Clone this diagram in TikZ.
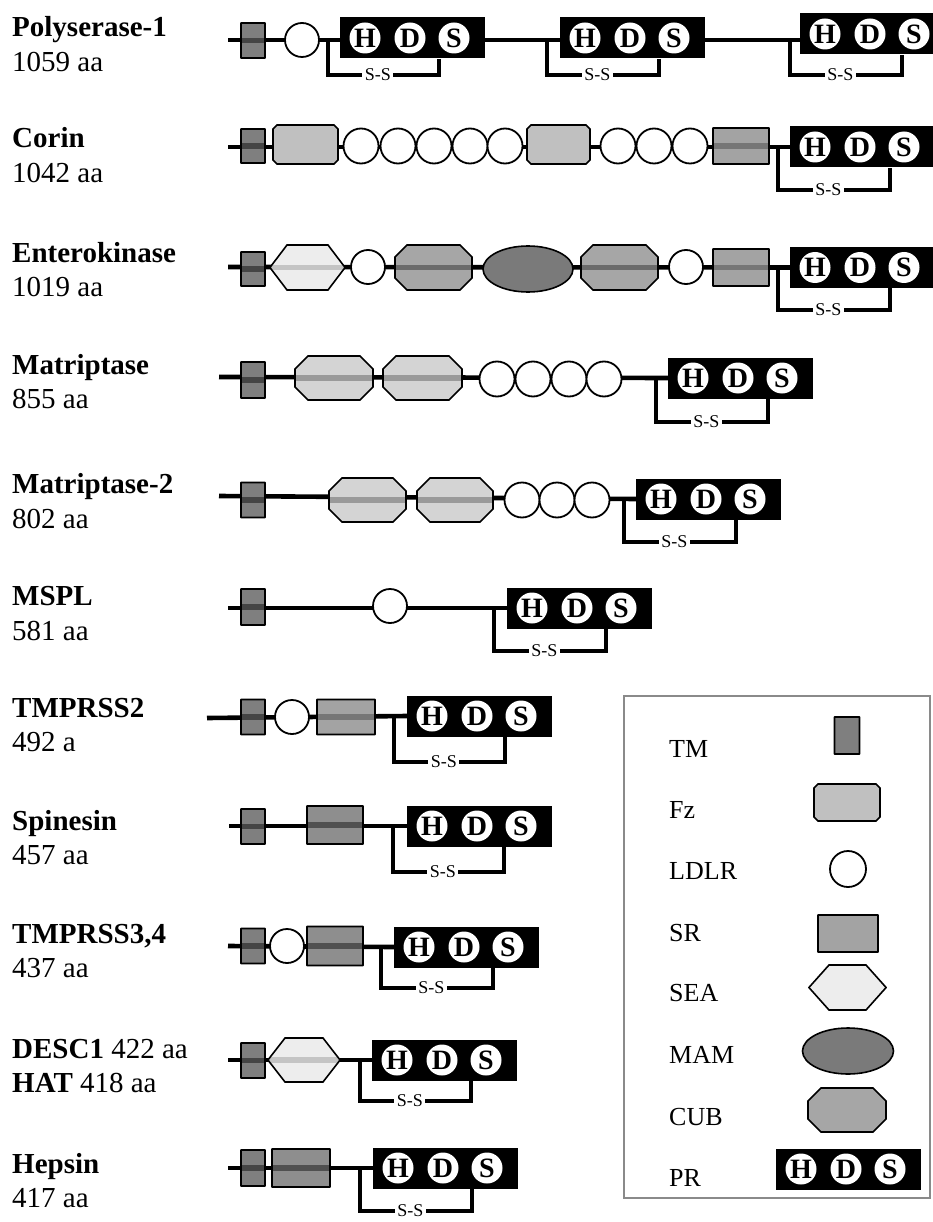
\documentclass[tikz,border=0pt]{standalone}
\usepackage{fontspec}
\setmainfont{Liberation Serif}
\usetikzlibrary{shapes.geometric,backgrounds,calc}
\definecolor{tmgray}{HTML}{7F7F7F}
\definecolor{tmband}{HTML}{454545}
\definecolor{fzgray}{HTML}{C0C0C0}
\definecolor{srgray}{HTML}{A3A3A3}
\definecolor{srband}{HTML}{767676}
\definecolor{srdark}{HTML}{8E8E8E}
\definecolor{srdband}{HTML}{505050}
\definecolor{seafill}{HTML}{EDEDED}
\definecolor{seaband}{HTML}{C4C4C4}
\definecolor{cubfill}{HTML}{A6A6A6}
\definecolor{cubband}{HTML}{6B6B6B}
\definecolor{cublight}{HTML}{D4D4D4}
\definecolor{cubband2}{HTML}{9A9A9A}
\definecolor{mamgray}{HTML}{7A7A7A}
\definecolor{legborder}{HTML}{8A8A8A}
% domain: name, cx, cy, half width, half height, chamfer x, chamfer y, fill, band
\newcommand{\dom}[9]{%
  \coordinate (#1) at (#2,#3);
  \draw[domline, fill=#8, path picture={\fill[#9] ({#2-#4},{#3-2.6}) rectangle ({#2+#4},{#3+2.6});}]
   ({#2-#4+#6},{#3-#5}) -- ({#2+#4-#6},{#3-#5}) -- ({#2+#4},{#3-#5+#7}) -- ({#2+#4},{#3+#5-#7})
   -- ({#2+#4-#6},{#3+#5}) -- ({#2-#4+#6},{#3+#5}) -- ({#2-#4},{#3+#5-#7}) -- ({#2-#4},{#3-#5+#7}) -- cycle;
}
% protease domain: name, left x, centre y
\newcommand{\prd}[3]{%
  \node[prbox] (#1) at (#2,#3) {};
  \node[hds] (#1h) at ({#2+25},#3) {H};
  \node[hds] (#1d) at ({#2+70},#3) {D};
  \node[hds] (#1s) at ({#2+114},#3) {S};
}
% disulfide bracket: pr name, left x, top y, bottom y, right x
\newcommand{\ssb}[5]{%
  \coordinate (#1x) at (#5,0);
  \draw[brk] (#2,#3) -- (#2,#4) -- node[ssl,pos=0.45]{S-S} (#5,#4) -- (#1x |- #1.south);
}
\begin{document}
\begin{tikzpicture}[x=1pt,y=-1pt,
  bb/.style={line width=4.6pt},
  domline/.style={draw=black, line width=1.6pt},
  ldlr/.style={circle, draw=black, fill=white, line width=1.8pt, minimum size=34pt, inner sep=0pt},
  prbox/.style={rectangle, fill=black, minimum width=145pt, minimum height=41pt, inner sep=0pt, anchor=west},
  hds/.style={circle, fill=white, minimum size=31pt, inner sep=0pt, font=\fontsize{28}{28}\selectfont\bfseries},
  brk/.style={line width=3.2pt},
  ssl/.style={fill=white, inner sep=2.5pt, font=\fontsize{18}{18}\selectfont},
  nm/.style={anchor=base west, inner sep=0pt, font=\fontsize{29}{30}\selectfont\bfseries},
  aa/.style={anchor=base west, inner sep=0pt, font=\fontsize{29}{30}\selectfont},
  leg/.style={anchor=base west, inner sep=0pt, font=\fontsize{26}{28}\selectfont},
  mam/.style={ellipse, draw=black, line width=1.6pt, fill=mamgray, minimum width=90pt, minimum height=46pt, inner sep=0pt},
  legbox/.style={draw=legborder, line width=2pt, anchor=north west, minimum width=306pt, minimum height=502pt, inner sep=0pt}
]
\useasboundingbox (0,0) rectangle (932,1222);

% ---------- labels ----------
\node[nm] (n1) at (12,37) {Polyserase-1};
\node[aa] (a1) at (12,72) {1059 aa};
\node[nm] (n2) at (12,148) {Corin};
\node[aa] (a2) at (12,183) {1042 aa};
\node[nm] (n3) at (12,263) {Enterokinase};
\node[aa] (a3) at (12,297) {1019 aa};
\node[nm] (n4) at (12,374) {Matriptase};
\node[aa] (a4) at (12,408) {855 aa};
\node[nm] (n5) at (12,493) {Matriptase-2};
\node[aa] (a5) at (12,528) {802 aa};
\node[nm] (n6) at (12,605) {MSPL};
\node[aa] (a6) at (12,640) {581 aa};
\node[nm] (n7) at (12,717) {TMPRSS2};
\node[aa] (a7) at (12,751) {492 a};
\node[nm] (n8) at (12,830) {Spinesin};
\node[aa] (a8) at (12,864) {457 aa};
\node[nm] (n9) at (12,943) {TMPRSS3,4};
\node[aa] (a9) at (12,977) {437 aa};
\node[aa] (n10) at (12,1058) {\textbf{DESC1} 422 aa};
\node[aa] (a10) at (12,1092) {\textbf{HAT} 418 aa};
\node[nm] (n11) at (12,1173) {Hepsin};
\node[aa] (a11) at (12,1207) {417 aa};

% ---------- row 1: Polyserase-1 ----------
\coordinate (r1s) at (228,40);
\dom{tm1}{253}{40.5}{12}{17.5}{0.3}{0.3}{tmgray}{tmband}
\node[ldlr] (c1) at (302,40) {};
\prd{pa}{340}{38}
\prd{pb}{560}{38}
\prd{pc}{800}{34}
\ssb{pa}{328}{40}{75}{439}
\ssb{pb}{547}{40}{75}{659}
\ssb{pc}{790}{40}{75}{902}

% ---------- row 2: Corin ----------
\coordinate (r2s) at (228,147);
\dom{tm2}{253}{146}{12}{17}{0.3}{0.3}{tmgray}{tmband}
\dom{fz2a}{305.5}{144.5}{32.5}{19.5}{4}{4}{fzgray}{fzgray}
\node[ldlr, minimum size=35pt] (c2a) at (361,146) {};
\node[ldlr, minimum size=35pt] (c2b) at (398,146) {};
\node[ldlr, minimum size=35pt] (c2c) at (434,146) {};
\node[ldlr, minimum size=35pt] (c2d) at (470,146) {};
\node[ldlr, minimum size=35pt] (c2e) at (505,146) {};
\dom{fz2b}{558.5}{144.5}{31.5}{19.5}{4}{4}{fzgray}{fzgray}
\node[ldlr, minimum size=35pt] (c2f) at (618,146) {};
\node[ldlr, minimum size=35pt] (c2g) at (654,146) {};
\node[ldlr, minimum size=35pt] (c2h) at (690,146) {};
\dom{sr2}{741}{146}{28}{18}{0.3}{0.3}{srgray}{srband}
\prd{pd}{790}{147}
\ssb{pd}{778}{147}{190}{890}

% ---------- row 3: Enterokinase ----------
\coordinate (r3s) at (228,267);
\dom{tm3}{253}{269}{12}{17}{0.3}{0.3}{tmgray}{tmband}
\dom{sea3}{307.5}{267.5}{37.5}{22.5}{17}{22.4}{seafill}{seaband}
\node[ldlr] (c3a) at (368,267) {};
\dom{cub3a}{433.5}{267.5}{38.5}{22.5}{12}{12}{cubfill}{cubband}
\node[mam] (mam3) at (528,269) {};
\dom{cub3b}{619.5}{267.5}{38.5}{22.5}{12}{12}{cubfill}{cubband}
\node[ldlr] (c3b) at (686,267) {};
\dom{sr3}{741}{267.5}{28}{18.5}{0.3}{0.3}{srgray}{srband}
\prd{pe}{790}{267.5}
\ssb{pe}{778}{267}{310}{890}

% ---------- row 4: Matriptase ----------
\coordinate (r4s) at (219,377);
\dom{tm4}{253}{380}{12}{18}{0.3}{0.3}{tmgray}{tmband}
\dom{cub4a}{334}{378}{39}{22}{13}{13}{cublight}{cubband2}
\dom{cub4b}{422.5}{378}{39.5}{22}{13}{13}{cublight}{cubband2}
\node[ldlr, minimum size=35pt] (c4a) at (497,379) {};
\node[ldlr, minimum size=35pt] (c4b) at (533,379) {};
\node[ldlr, minimum size=35pt] (c4c) at (569,379) {};
\node[ldlr, minimum size=35pt] (c4d) at (604,379) {};
\prd{pf}{668}{378}
\ssb{pf}{656}{377}{422}{768}

% ---------- row 5: Matriptase-2 ----------
\coordinate (r5s) at (219,496);
\dom{tm5}{253}{500}{12}{17.5}{0.3}{0.3}{tmgray}{tmband}
\dom{cub5a}{367.5}{500}{38.5}{22}{13}{13}{cublight}{cubband2}
\dom{cub5b}{455}{500}{38}{22}{13}{13}{cublight}{cubband2}
\node[ldlr, minimum size=35pt] (c5a) at (522,500) {};
\node[ldlr, minimum size=35pt] (c5b) at (557,500) {};
\node[ldlr, minimum size=35pt] (c5c) at (592,500) {};
\prd{pg}{636}{499}
\ssb{pg}{624}{500}{542}{736}

% ---------- row 6: MSPL ----------
\coordinate (r6s) at (228,608);
\dom{tm6}{253}{607}{12}{18}{0.3}{0.3}{tmgray}{tmband}
\node[ldlr] (c6) at (390,606) {};
\prd{ph}{507}{608}
\ssb{ph}{494}{608}{651}{606}

% ---------- row 7: TMPRSS2 ----------
\coordinate (r7s) at (207,718);
\dom{tm7}{253}{717}{12}{17.5}{0.3}{0.3}{tmgray}{tmband}
\node[ldlr] (c7) at (292,717) {};
\dom{sr7}{346}{717}{29}{17.5}{0.3}{0.3}{srgray}{srband}
\prd{pi}{407}{716}
\ssb{pi}{394}{718}{762}{505}

% ---------- row 8: Spinesin ----------
\coordinate (r8s) at (229,826);
\dom{tm8}{253}{826.5}{12}{17.5}{0.3}{0.3}{tmgray}{tmband}
\dom{sr8}{335}{825}{28}{19}{0.3}{0.3}{srdark}{srdband}
\prd{pj}{407}{826}
\ssb{pj}{393}{826}{872}{504}

% ---------- row 9: TMPRSS3,4 ----------
\coordinate (r9s) at (228,946);
\dom{tm9}{253}{946}{12}{17.5}{0.3}{0.3}{tmgray}{tmband}
\node[ldlr] (c9) at (287,946) {};
\dom{sr9}{335}{946}{28}{19.5}{0.3}{0.3}{srdark}{srdband}
\prd{pk}{394}{947}
\ssb{pk}{381}{946}{988}{493}

% ---------- row 10: DESC1 / HAT ----------
\coordinate (r10s) at (228,1060);
\dom{tm10}{253}{1060.5}{12}{17.5}{0.3}{0.3}{tmgray}{tmband}
\dom{sea10}{304}{1060}{36}{22}{17}{21.9}{seafill}{seaband}
\prd{pm}{372}{1060}
\ssb{pm}{360}{1060}{1101}{471}

% ---------- row 11: Hepsin ----------
\coordinate (r11s) at (228,1168);
\dom{tm11}{253}{1168}{12}{18}{0.3}{0.3}{tmgray}{tmband}
\dom{sr11}{301}{1168}{29}{19}{0.3}{0.3}{srdark}{srdband}
\prd{pn}{373}{1168}
\ssb{pn}{360}{1168}{1211}{472}

% ---------- backbones ----------
\begin{pgfonlayer}{background}
\draw[bb] (r1s) -- (r1s -| pc.west);
\draw[bb] (r2s) -- (pd.west);
\draw[bb] (r3s) -- (pe.west);
\draw[bb] (r4s) -- (pf.west);
\draw[bb] (r5s) -- (pg.west);
\draw[bb] (r6s) -- (ph.west);
\draw[bb] (r7s) -- (pi.west);
\draw[bb] (r8s) -- (pj.west);
\draw[bb] (r9s) -- (pk.west);
\draw[bb] (r10s) -- (pm.west);
\draw[bb] (r11s) -- (pn.west);
\end{pgfonlayer}

% ---------- legend ----------
\node[legbox] (legend) at (623,695) {};
\node[leg] (ltm) at (669,757) {TM};
\node[leg] (lfz) at (669,818) {Fz};
\node[leg] (lld) at (669,879) {LDLR};
\node[leg] (lsr) at (669,941) {SR};
\node[leg] (lse) at (669,1001) {SEA};
\node[leg] (lma) at (669,1063) {MAM};
\node[leg] (lcu) at (669,1125) {CUB};
\node[leg] (lpr) at (669,1186) {PR};
\dom{gtm}{847}{735.5}{12.5}{18.5}{0.3}{0.3}{tmgray}{tmgray}
\dom{gfz}{847}{802.5}{33}{18.5}{4}{4}{fzgray}{fzgray}
\node[ldlr, minimum size=36pt] (gld) at (848,869) {};
\dom{gsr}{848}{933.5}{30}{18.5}{0.3}{0.3}{srgray}{srgray}
\dom{gse}{847.5}{987.5}{38.5}{22.5}{20}{22.4}{seafill}{seafill}
\node[mam, minimum width=91pt] (gma) at (848,1051) {};
\dom{gcu}{847}{1110}{39}{22}{13}{13}{cubfill}{cubfill}
\prd{pl}{776}{1169}
\end{tikzpicture}
\end{document}
